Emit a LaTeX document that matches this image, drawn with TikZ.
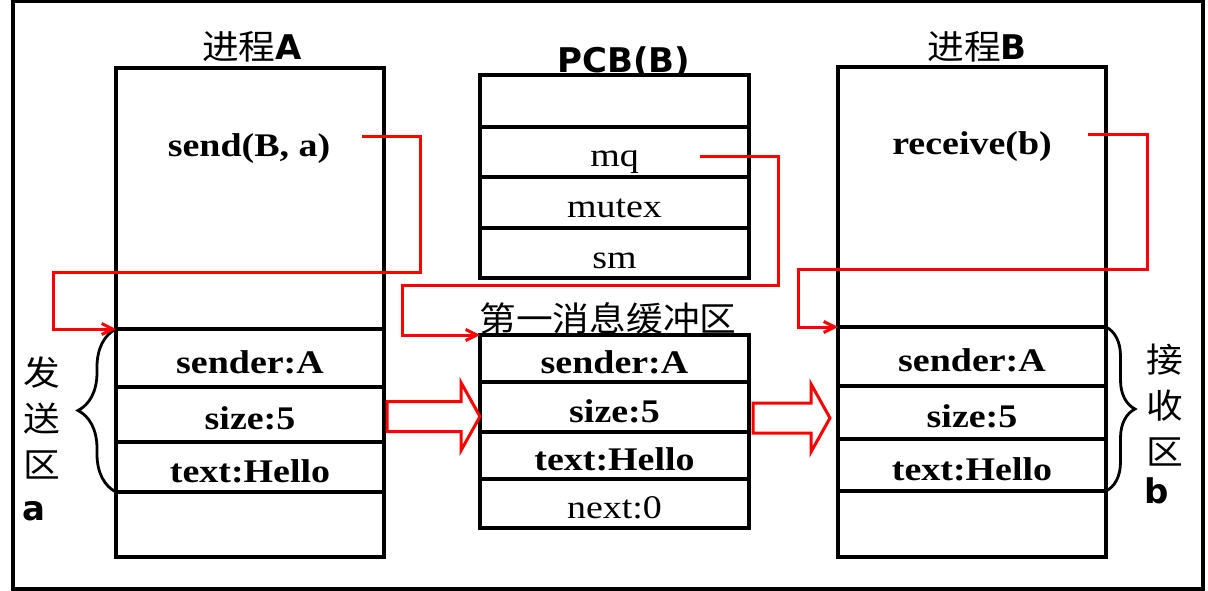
\documentclass[tikz,border=0pt]{standalone}
\usepackage{fontspec}
\setmainfont{Liberation Serif}[FakeStretch=1.15]
\newfontfamily\cjk{Noto Sans CJK SC}[FakeStretch=1.08]
\newfontfamily\sansb{DejaVu Sans}
\usetikzlibrary{arrows.meta,decorations.pathreplacing,calc}

\newcommand{\cellfont}{\fontsize{33pt}{33pt}\selectfont}
\newcommand{\cjkfont}{\cjk\fontsize{34pt}{34pt}\selectfont}
\newcommand{\zonefont}{\cjk\fontsize{34pt}{46pt}\selectfont}
\newcommand{\tagfont}{\sansb\bfseries\fontsize{34pt}{34pt}\selectfont}

\newcommand{\fatarrow}[2]{%
  \draw[fatarrow] let \p1=#1, \p2=#2 in
    (\x1,\y1+15) -- (\x2-19,\y1+15) -- (\x2-19,\y1+34) -- (\x2,\y1)
    -- (\x2-19,\y1-34) -- (\x2-19,\y1-15) -- (\x1,\y1-15) -- cycle;}

\begin{document}
\begin{tikzpicture}[x=1pt, y=-1pt,
    cell/.style={draw, line width=3.5pt, inner sep=0pt, outer sep=0pt,
      minimum width=268pt, text height=31pt, text depth=1pt, font=\cellfont},
    cellb/.style={cell, font=\cellfont\bfseries},
    redline/.style={draw=red, line width=3pt, -{Straight Barb[length=11pt,width=11pt]}},
    fatarrow/.style={draw=red, line width=3pt, fill=white},
    curly/.style={draw, line width=2.8pt, decorate, decoration={brace, amplitude=#1}}]

        \useasboundingbox (0,0) rectangle (1208,591);
        \draw[line width=3.5pt] (13,1.5) rectangle (1203,589);

        % Process A
        \node[cell, minimum height=261pt] (A0) at (250,198.5) {};
        \node[cellb, minimum height=58pt] (A1) at (250,358) {sender:A};
        \node[cellb, minimum height=55pt] (A2) at (250,414.5) {size:5};
        \node[cellb, minimum height=50pt] (A3) at (250,467) {text:Hello};
        \node[cell, minimum height=65pt] (A4) at (250,524.5) {};

        \node[font=\cjkfont, anchor=base, inner sep=0pt] (titleA) at (252,59.5) {进程{\tagfont A}};
        \node[font=\cellfont\bfseries, anchor=base, inner sep=0pt] (sendA) at (249,157) {send(B, a)};

        % PCB of B
        \node[cell, minimum width=269pt, minimum height=52pt] (P0) at (614.5,101) {};
        \node[cell, minimum width=269pt, minimum height=50pt] (P1) at (614.5,152) {mq};
        \node[cell, minimum width=269pt, minimum height=51pt] (P2) at (614.5,202.5) {mutex};
        \node[cell, minimum width=269pt, minimum height=50pt] (P3) at (614.5,253) {sm};

        \node[font=\tagfont, anchor=base, inner sep=0pt] (titleP) at (624,73) {PCB(B)};

        % Message buffer
        \node[cellb, minimum width=269pt, minimum height=47pt] (M1) at (614.5,358.5) {sender:A};
        \node[cellb, minimum width=269pt, minimum height=50pt] (M2) at (614.5,407) {size:5};
        \node[cellb, minimum width=269pt, minimum height=47pt] (M3) at (614.5,455.5) {text:Hello};
        \node[cell, minimum width=269pt, minimum height=49pt] (M4) at (614.5,503.5) {next:0};

        \node[font=\cjkfont, anchor=base, inner sep=0pt] (titleM) at (608,331) {第一消息缓冲区};

        % Process B
        \node[cell, minimum height=260pt] (B0) at (972,197) {};
        \node[cellb, minimum height=59pt] (B1) at (972,356.5) {sender:A};
        \node[cellb, minimum height=53pt] (B2) at (972,412.5) {size:5};
        \node[cellb, minimum height=52pt] (B3) at (972,465) {text:Hello};
        \node[cell, minimum height=66pt] (B4) at (972,524) {};

        \node[font=\cjkfont, anchor=base, inner sep=0pt] (titleB) at (977,59.5) {进程{\tagfont B}};
        \node[font=\cellfont\bfseries, anchor=base, inner sep=0pt] (recvB) at (972,155) {receive(b)};

        % Send and receive areas
        \draw[curly=38pt] (A3.south west) -- (A1.north west);
        \node[font=\zonefont, align=center, inner sep=0pt] (sendzone) at (42,418) {发\\送\\区};
        \node[font=\tagfont, anchor=base, inner sep=0pt] (tagA) at (34,520) {a};

        \draw[curly=29pt] (B1.north east) -- (B3.south east);
        \node[font=\zonefont, align=center, inner sep=0pt] (recvzone) at (1165,405) {接\\收\\区};
        \node[font=\tagfont, anchor=base, inner sep=0pt] (tagB) at (1157,503) {b};

        % Pointers
        \coordinate (sendout) at (362,137);
        \draw[redline] (sendout) -- (420,137) -- (420,272) -- (53,272) |- (A1.north west);
        \coordinate (mqout) at (700,157);
        \draw[redline] (mqout) -- (778,157) -- (778,285) -- (402,285) |- (M1.north west);
        \coordinate (recvout) at (1088,135);
        \draw[redline] (recvout) -- (1147,135) -- (1147,269) -- (798,269) |- (B1.north west);

        % Copy arrows
        \fatarrow{([shift={(3,2)}]A2.east)}{(M2.west)}
        \fatarrow{([shift={(4,11)}]M2.east)}{([xshift=-8pt]B2.west)}

\end{tikzpicture}
\end{document}
